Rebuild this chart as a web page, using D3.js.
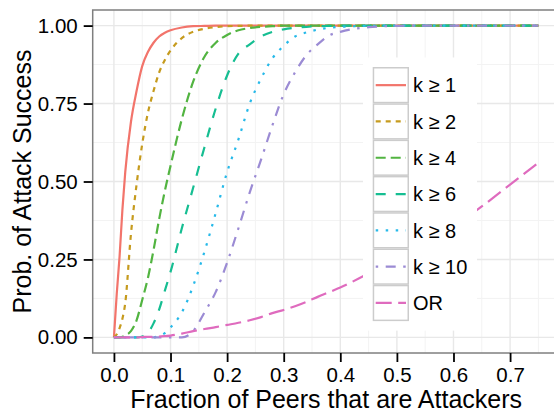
<!DOCTYPE html>
<html lang="en">
<head>
<meta charset="UTF-8">
<title>Prob. of Attack Success</title>
<script src="https://d3js.org/d3.v7.min.js"></script>
<style>
  body { margin: 0; background: #fff; }
  text { font-family: "Liberation Sans", Arial, Helvetica, sans-serif; fill: #000; }
  .line { fill: none; stroke-width: 2.2px; stroke-linecap: butt; }
</style>
</head>
<body>
<svg id="chart" width="554" height="415"></svg>
<script>
    // fraction of attacking peers (shared x for every series)
    const fraction = [0, 0.005, 0.01, 0.015, 0.02, 0.03, 0.04, 0.05, 0.06, 0.07, 0.08, 0.09, 0.10,
        0.12, 0.14, 0.16, 0.18, 0.20, 0.22, 0.24, 0.26, 0.28, 0.30, 0.32, 0.34, 0.36, 0.38, 0.40,
        0.45, 0.50, 0.55, 0.60, 0.65, 0.70, 0.75];

    const k1  = [0, 0.14, 0.26, 0.41, 0.53, 0.69, 0.79, 0.87, 0.915, 0.945, 0.965, 0.977, 0.985,
        0.994, 0.998, 0.999, 1, 1, 1, 1, 1, 1, 1, 1, 1, 1, 1, 1, 1, 1, 1, 1, 1, 1, 1];
    const k2  = [0, 0.01, 0.03, 0.06, 0.11, 0.33, 0.49, 0.62, 0.72, 0.79, 0.85, 0.89, 0.92,
        0.96, 0.98, 0.99, 0.995, 0.998, 0.999, 1, 1, 1, 1, 1, 1, 1, 1, 1, 1, 1, 1, 1, 1, 1, 1];
    const k4  = [0, 0, 0, 0.002, 0.006, 0.02, 0.055, 0.12, 0.19, 0.28, 0.38, 0.47, 0.55,
        0.70, 0.82, 0.90, 0.945, 0.97, 0.985, 0.992, 0.996, 0.998, 1, 1, 1, 1, 1, 1, 1, 1, 1, 1, 1, 1, 1];
    const k6  = [0, 0, 0, 0, 0, 0, 0, 0.003, 0.015, 0.045, 0.09, 0.15, 0.21,
        0.35, 0.48, 0.61, 0.735, 0.84, 0.91, 0.94, 0.965, 0.98, 0.988, 0.993, 0.996, 0.998, 0.999, 1,
        1, 1, 1, 1, 1, 1, 1];
    const k8  = [0, 0, 0, 0, 0, 0, 0, 0, 0, 0, 0.005, 0.014, 0.032,
        0.08, 0.165, 0.275, 0.40, 0.53, 0.635, 0.75, 0.83, 0.895, 0.935, 0.965, 0.978, 0.987, 0.993, 0.996,
        0.999, 1, 1, 1, 1, 1, 1];
    const k10 = [0, 0, 0, 0, 0, 0, 0, 0, 0, 0, 0, 0, 0,
        0, 0.02, 0.08, 0.146, 0.24, 0.35, 0.465, 0.57, 0.68, 0.78, 0.85, 0.905, 0.94, 0.968, 0.98,
        0.995, 0.999, 1, 1, 1, 1, 1];
    const orSeries = [0, 0, 0, 0, 0, 0, 0, 0.001, 0.002, 0.002, 0.003, 0.004, 0.006,
        0.012, 0.02, 0.027, 0.033, 0.04, 0.047, 0.055, 0.065, 0.078, 0.088, 0.10, 0.114, 0.13, 0.145, 0.16,
        0.205, 0.25, 0.30, 0.355, 0.42, 0.49, 0.56];

    const labels = ["k \u2265 1", "k \u2265 2", "k \u2265 4", "k \u2265 6", "k \u2265 8", "k \u2265 10", "OR"];
    const values = [k1, k2, k4, k6, k8, k10, orSeries];
    const colors = ["#F2746B", "#C69B1E", "#52B441", "#16BE92", "#26B9E9", "#9B8BD4", "#DF6BBE"];
    // ggplot linetypes 22, 42, 44, 13, 1343, 73 (units of 2.5px)
    const dashes = ["none", "5,5", "10,5", "10,10", "2.5,7.5", "2.5,7.5,10,7.5", "16,6.5"];

    const xTicks = [0, 0.1, 0.2, 0.3, 0.4, 0.5, 0.6, 0.7];
    const xMinor = [0.05, 0.15, 0.25, 0.35, 0.45, 0.55, 0.65, 0.75];
    const yTicks = [0, 0.25, 0.5, 0.75, 1];
    const yMinor = [0.125, 0.375, 0.625, 0.875];

    const svg = d3.select("#chart");
    const panel = {left: 92.7, right: 559.6, top: 10, bottom: 353};

    const x = d3.scaleLinear().domain([-0.0375, 0.7875]).range([panel.left, panel.right]);
    const y = d3.scaleLinear().domain([-0.05, 1.05]).range([panel.bottom, panel.top]);

    svg.append("defs").append("clipPath").attr("id", "clip")
        .append("rect")
        .attr("x", panel.left).attr("y", panel.top)
        .attr("width", panel.right - panel.left).attr("height", panel.bottom - panel.top);

    const grid = svg.append("g");
    grid.selectAll(".vminor").data(xMinor).join("line")
        .attr("x1", d => x(d)).attr("x2", d => x(d))
        .attr("y1", panel.top).attr("y2", panel.bottom)
        .attr("stroke", "#F3F3F3").attr("stroke-width", 1);
    grid.selectAll(".hminor").data(yMinor).join("line")
        .attr("y1", d => y(d)).attr("y2", d => y(d))
        .attr("x1", panel.left).attr("x2", panel.right)
        .attr("stroke", "#F3F3F3").attr("stroke-width", 1);
    grid.selectAll(".vmajor").data(xTicks).join("line")
        .attr("x1", d => x(d)).attr("x2", d => x(d))
        .attr("y1", panel.top).attr("y2", panel.bottom)
        .attr("stroke", "#E8E8E8").attr("stroke-width", 1.4);
    grid.selectAll(".hmajor").data(yTicks).join("line")
        .attr("y1", d => y(d)).attr("y2", d => y(d))
        .attr("x1", panel.left).attr("x2", panel.right)
        .attr("stroke", "#E8E8E8").attr("stroke-width", 1.4);

    const line = d3.line()
        .x((d, i) => x(fraction[i]))
        .y(d => y(d))
        .curve(d3.curveMonotoneX);

    const lines = svg.append("g").attr("clip-path", "url(#clip)");
    values.forEach((vals, i) => {
        lines.append("path")
            .datum(vals)
            .attr("class", "line")
            .attr("stroke", colors[i])
            .attr("stroke-dasharray", dashes[i])
            .attr("d", line);
    });

    // legend (inside the panel)
    const keySize = 36.3;
    const legend = svg.append("g").attr("transform", "translate(372.7,67)");
    legend.append("rect")
        .attr("x", -9.7).attr("y", -9.5)
        .attr("width", 114).attr("height", keySize * labels.length + 19)
        .attr("fill", "#fff");
    labels.forEach((lab, i) => {
        const g = legend.append("g").attr("transform", `translate(0,${i * keySize})`);
        g.append("rect")
            .attr("x", 0.75).attr("y", 0.75)
            .attr("width", keySize - 1.5).attr("height", keySize - 1.5)
            .attr("fill", "#fff").attr("stroke", "#CCCCCC").attr("stroke-width", 1.5);
        g.append("line")
            .attr("x1", 3).attr("x2", keySize - 3)
            .attr("y1", keySize / 2).attr("y2", keySize / 2)
            .attr("class", "line")
            .attr("stroke", colors[i])
            .attr("stroke-dasharray", dashes[i]);
        g.append("text")
            .attr("x", keySize + 4).attr("y", keySize / 2)
            .attr("dy", "0.36em")
            .attr("font-size", 20)
            .text(lab);
    });

    // panel border
    svg.append("rect")
        .attr("x", panel.left).attr("y", panel.top)
        .attr("width", panel.right - panel.left).attr("height", panel.bottom - panel.top)
        .attr("fill", "none").attr("stroke", "#7F7F7F").attr("stroke-width", 1.5);

    const xAxis = svg.append("g")
        .attr("transform", `translate(0,${panel.bottom})`)
        .call(d3.axisBottom(x).tickValues(xTicks).tickFormat(d3.format(".1f")).tickSize(9).tickPadding(5));
    const yAxis = svg.append("g")
        .attr("transform", `translate(${panel.left},0)`)
        .call(d3.axisLeft(y).tickValues(yTicks).tickFormat(d3.format(".2f")).tickSize(9).tickPadding(6));

    [xAxis, yAxis].forEach(a => {
        a.select(".domain").remove();
        a.selectAll(".tick line").attr("stroke", "#000").attr("stroke-width", 1.8);
        a.selectAll(".tick text").attr("font-size", 20.5).attr("font-family", null).attr("fill", "#000");
    });

    svg.append("text")
        .attr("x", (panel.left + panel.right) / 2).attr("y", 408)
        .attr("text-anchor", "middle")
        .attr("font-size", 25)
        .text("Fraction of Peers that are Attackers");

    svg.append("text")
        .attr("transform", `translate(31,${(panel.top + panel.bottom) / 2}) rotate(-90)`)
        .attr("text-anchor", "middle")
        .attr("font-size", 25)
        .text("Prob. of Attack Success");
</script>
</body>
</html>
